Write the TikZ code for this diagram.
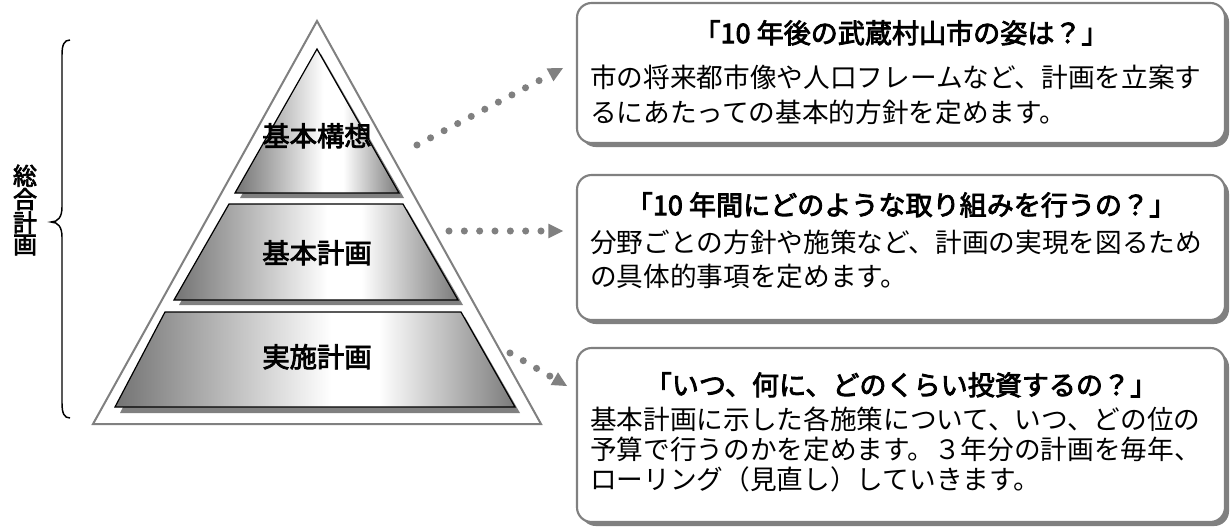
\documentclass[tikz,border=0pt]{standalone}
\usepackage{fontspec}
\setmainfont{Noto Sans CJK JP}
\newfontfamily\jpsemi[FakeBold=3]{Noto Sans CJK JP}
\usetikzlibrary{arrows.meta}
\pgfdeclarehorizontalshading{layershade}{100bp}{color(0bp)=(black!55); color(25bp)=(black!55); color(52bp)=(white); color(58bp)=(white); color(75bp)=(black!52); color(100bp)=(black!52)}
\definecolor{lgray}{HTML}{808080}
\tikzset{
  layer/.style={draw=black, line width=0.9pt, shading=layershade},
  layershadow/.style={fill=lgray},
  outertri/.style={draw=lgray, line width=1.5pt, line join=miter},
  infobox/.style={draw=lgray, line width=1.6pt, fill=white, rounded corners=11pt},
  infoshadow/.style={fill=lgray, rounded corners=11pt},
  lbl/.style={inner sep=0pt, font=\fontsize{20.5pt}{20pt}\selectfont\jpsemi, text height=17.8pt, text depth=2.6pt},
  title/.style={inner sep=0pt, font=\fontsize{20.3pt}{20pt}\selectfont\jpsemi, text height=17.8pt, text depth=2.6pt},
  body/.style={inner sep=0pt, anchor=west, font=\fontsize{20pt}{20pt}\selectfont, text height=17.6pt, text depth=2.4pt},
  side/.style={inner sep=0pt, align=center, font=\fontsize{18pt}{16.4pt}\selectfont\jpsemi},
  dotarrow/.style={draw=lgray, line width=5.3pt, line cap=round, dash pattern=on 0pt off 11.5pt,
    -{Triangle[length=11pt, width=11pt, line width=0pt]}},
  bracepath/.style={draw=black, line width=1.1pt}
}
\begin{document}
\begin{tikzpicture}[x=0.75pt, y=-0.75pt]
\useasboundingbox (0,0) rectangle (1231,528);
\fill[white] (0,0) rectangle (1231,528);

% outer triangle
\draw[outertri] (317,21) -- (541,424) -- (93,424) -- cycle;

% layer shadows
\fill[layershadow] (321,54) -- (404,198) -- (240,198) -- cycle;
\fill[layershadow] (233,209) -- (407,209) -- (463,305) -- (179,305) -- cycle;
\fill[layershadow] (169,317) -- (465,317) -- (520,413) -- (120,413) -- cycle;

% layers
\path[layer] (317,49) -- (399,193) -- (235,193) -- cycle;
\path[layer] (229,204) -- (403,204) -- (458,300) -- (174,300) -- cycle;
\path[layer] (165,312) -- (461,312) -- (515,407) -- (115,407) -- cycle;

\node[lbl] (l1) at (317,136) {基本構想};
\node[lbl] (l2) at (317,253) {基本計画};
\node[lbl] (l3) at (317,357) {実施計画};

% brace
\draw[bracepath] (70,40) .. controls (64,40) and (62,45) .. (62,55) -- (62,207)
  .. controls (62,217) and (58,222) .. (51,222)
  .. controls (58,222) and (62,227) .. (62,237) -- (62,403)
  .. controls (62,413) and (64,418) .. (70,418);
\node[side] (sidelbl) at (25,210) {総\\合\\計\\画};

% boxes
\fill[infoshadow] (581,7) rectangle (1229,147);
\path[infobox] (577,3) rectangle (1225,143);
\fill[infoshadow] (581,179) rectangle (1229,324);
\path[infobox] (577,175) rectangle (1225,320);
\fill[infoshadow] (581,352) rectangle (1229,526);
\path[infobox] (577,348) rectangle (1225,522);

\node[title] (t1) at (901,33) {「10 年後の武蔵村山市の姿は？」};
\node[body] (b1a) at (590,77) {市の将来都市像や人口フレームなど、計画を立案す};
\node[body] (b1b) at (590,112) {るにあたっての基本的方針を定めます。};

\node[title] (t2) at (901,205) {「10 年間にどのような取り組みを行うの？」};
\node[body] (b2a) at (590,242) {分野ごとの方針や施策など、計画の実現を図るため};
\node[body] (b2b) at (590,276) {の具体的事項を定めます。};

\node[title] (t3) at (901,385) {「いつ、何に、どのくらい投資するの？」};
\node[body] (b3a) at (590,419) {基本計画に示した各施策について、いつ、どの位の};
\node[body] (b3b) at (590,449) {予算で行うのかを定めます。３年分の計画を毎年、};
\node[body] (b3c) at (590,479) {ローリング（見直し）していきます。};

% dotted arrows
\coordinate (a1s) at (417,145);
\coordinate (a1e) at (563,68);
\coordinate (a2s) at (449,231);
\coordinate (a2e) at (563,231);
\coordinate (a3s) at (510,353);
\coordinate (a3e) at (567,386);
\draw[dotarrow] (a1s) -- (a1e);
\draw[dotarrow] (a2s) -- (a2e);
\draw[dotarrow] (a3s) -- (a3e);
\end{tikzpicture}
\end{document}
